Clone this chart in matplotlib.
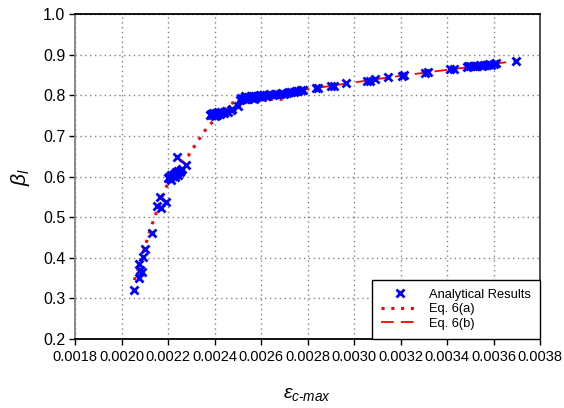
import matplotlib
matplotlib.use("Agg")
import matplotlib.pyplot as plt
import numpy as np

plt.rcParams['font.family'] = ['Liberation Sans', 'DejaVu Sans']
plt.rcParams['mathtext.fontset'] = 'custom'
plt.rcParams['mathtext.it'] = 'Liberation Sans:italic'
plt.rcParams['mathtext.rm'] = 'Liberation Sans'

# Analytical results (epsilon_c-max, beta_1)
res_x = [0.002055, 0.002075, 0.002087, 0.002077, 0.002080, 0.002092, 0.002103, 0.00213,
         0.002154, 0.002171, 0.002164, 0.002191,
         0.00220, 0.002205, 0.00221, 0.002215, 0.00222, 0.002225, 0.00223, 0.002235,
         0.00224, 0.002245, 0.00225, 0.002255, 0.00226, 0.002212, 0.002228, 0.002242,
         0.00224, 0.002276,
         0.00238, 0.002385, 0.00239, 0.002395, 0.0024, 0.002405, 0.00241, 0.002415,
         0.00242, 0.00243, 0.00244, 0.00245, 0.00246, 0.00247, 0.002475, 0.002402, 0.002425,
         0.002502,
         0.00251, 0.002515, 0.00252, 0.002525, 0.00253, 0.002535, 0.00254, 0.002545,
         0.00255, 0.002555, 0.00256, 0.002565, 0.00257, 0.002575, 0.00258, 0.002585,
         0.00259, 0.002595, 0.0026, 0.00261, 0.00262, 0.00263, 0.00264, 0.00265,
         0.00266, 0.00267, 0.00268, 0.00269, 0.0027, 0.00271, 0.00272, 0.00273,
         0.00274, 0.00275, 0.00276, 0.00277, 0.00278, 0.002532, 0.002568, 0.002605,
         0.002837, 0.002845, 0.002900, 0.002912, 0.002964,
         0.003055, 0.003070, 0.00309, 0.003145, 0.003205, 0.003215, 0.003305, 0.003320,
         0.003415, 0.003430, 0.003485, 0.00349, 0.0035, 0.00351, 0.00352, 0.00353,
         0.00354, 0.00355, 0.00356, 0.00357, 0.00358, 0.00359, 0.0036, 0.00361, 0.003697]
res_y = [0.321, 0.351, 0.364, 0.384, 0.370, 0.403, 0.422, 0.460,
         0.527, 0.523, 0.549, 0.538,
         0.597, 0.600, 0.596, 0.603, 0.601, 0.607, 0.604, 0.610,
         0.608, 0.614, 0.612, 0.617, 0.619, 0.592, 0.598, 0.603,
         0.649, 0.629,
         0.752, 0.755, 0.751, 0.757, 0.754, 0.756, 0.752, 0.758,
         0.756, 0.759, 0.757, 0.762, 0.760, 0.764, 0.766, 0.748, 0.754,
         0.774,
         0.789, 0.793, 0.790, 0.794, 0.791, 0.795, 0.792, 0.796,
         0.793, 0.797, 0.794, 0.798, 0.795, 0.797, 0.796, 0.799,
         0.797, 0.800, 0.798, 0.800, 0.799, 0.801, 0.802, 0.801,
         0.803, 0.802, 0.804, 0.805, 0.804, 0.806, 0.807, 0.808,
         0.809, 0.810, 0.811, 0.812, 0.813, 0.797, 0.792, 0.795,
         0.818, 0.819, 0.823, 0.824, 0.829,
         0.835, 0.836, 0.840, 0.844, 0.848, 0.849, 0.856, 0.857,
         0.864, 0.865, 0.870, 0.871, 0.872, 0.871, 0.873, 0.872,
         0.874, 0.873, 0.875, 0.874, 0.876, 0.875, 0.877, 0.879, 0.885]

# Eq. 6(a) curve
eqa_x = [0.002055, 0.002065, 0.002078, 0.00209, 0.002105, 0.00212, 0.002138, 0.002158,
         0.00218, 0.002205, 0.00223, 0.002258, 0.002287, 0.002302, 0.002319, 0.002336,
         0.002353, 0.002371, 0.002397, 0.00243, 0.002467, 0.002495, 0.00253, 0.00258,
         0.00263, 0.00268, 0.00272]
eqa_y = [0.345, 0.362, 0.385, 0.408, 0.435, 0.462, 0.493, 0.525,
         0.558, 0.590, 0.617, 0.637, 0.651, 0.665, 0.679, 0.694,
         0.708, 0.723, 0.737, 0.758, 0.778, 0.786, 0.788, 0.789,
         0.789, 0.790, 0.790]

# Eq. 6(b) curve
eqb_x = [0.00250, 0.00270, 0.00284, 0.00297, 0.00315, 0.00335, 0.00355, 0.00370]
eqb_y = [0.792, 0.807, 0.818, 0.829, 0.844, 0.859, 0.873, 0.885]

xticks = [0.0018, 0.0020, 0.0022, 0.0024, 0.0026, 0.0028, 0.0030, 0.0032, 0.0034, 0.0036, 0.0038]
yticks = [0.2, 0.3, 0.4, 0.5, 0.6, 0.7, 0.8, 0.9, 1.0]

fig = plt.figure(figsize=(5.64, 4.08), dpi=100)
ax = fig.add_axes([75/564, 1-339/408, (540-75)/564, (339-14)/408])

ax.plot(eqa_x, eqa_y, linestyle=(0, (1, 2.2)), color='red', linewidth=2.2, zorder=2,
        label='Eq. 6(a)')
ax.plot(eqb_x, eqb_y, linestyle=(0, (7, 4)), color='red', linewidth=1.3, zorder=2,
        label='Eq. 6(b)')
ax.plot(res_x, res_y, linestyle='none', marker='x', color='#0000ff', markersize=5.5,
        markeredgewidth=2, zorder=3, label='Analytical Results')

ax.set_xlim(0.0018, 0.0038)
ax.set_ylim(0.2, 1.0)
ax.set_xticks(xticks)
ax.set_xticklabels([f"{v:.4f}" for v in xticks])
ax.set_yticks(yticks)
ax.set_yticklabels([f"{v:.1f}" for v in yticks])
ax.tick_params(axis='x', labelsize=10.5, direction='out', length=4, width=1, pad=4, colors='black')
ax.tick_params(axis='y', labelsize=11.5, direction='out', length=4, width=1, pad=3)
ax.grid(True, linestyle=(0, (1, 2.5)), color='#808080', linewidth=1)
ax.set_axisbelow(True)

ax.spines['top'].set_color('black')
ax.spines['bottom'].set_color('black')
ax.spines['left'].set_color('#808080')
ax.spines['right'].set_color('#404040')
for s in ax.spines.values():
    s.set_linewidth(1.3)

ax.set_xlabel(r'$\varepsilon_{c\text{-}max}$', fontsize=14, labelpad=16)
ax.set_ylabel(r'$\beta_l$', fontsize=15, labelpad=8)

handles, labels = ax.get_legend_handles_labels()
order = [2, 0, 1]
leg = ax.legend([handles[i] for i in order], [labels[i] for i in order],
                loc='lower right', borderaxespad=0, fancybox=False, fontsize=9.3,
                edgecolor='black', framealpha=1, handlelength=2.9, handletextpad=0.8,
                borderpad=0.7, labelspacing=0.2)
leg.get_frame().set_linewidth(1)

fig.savefig('out.png', dpi=100)
